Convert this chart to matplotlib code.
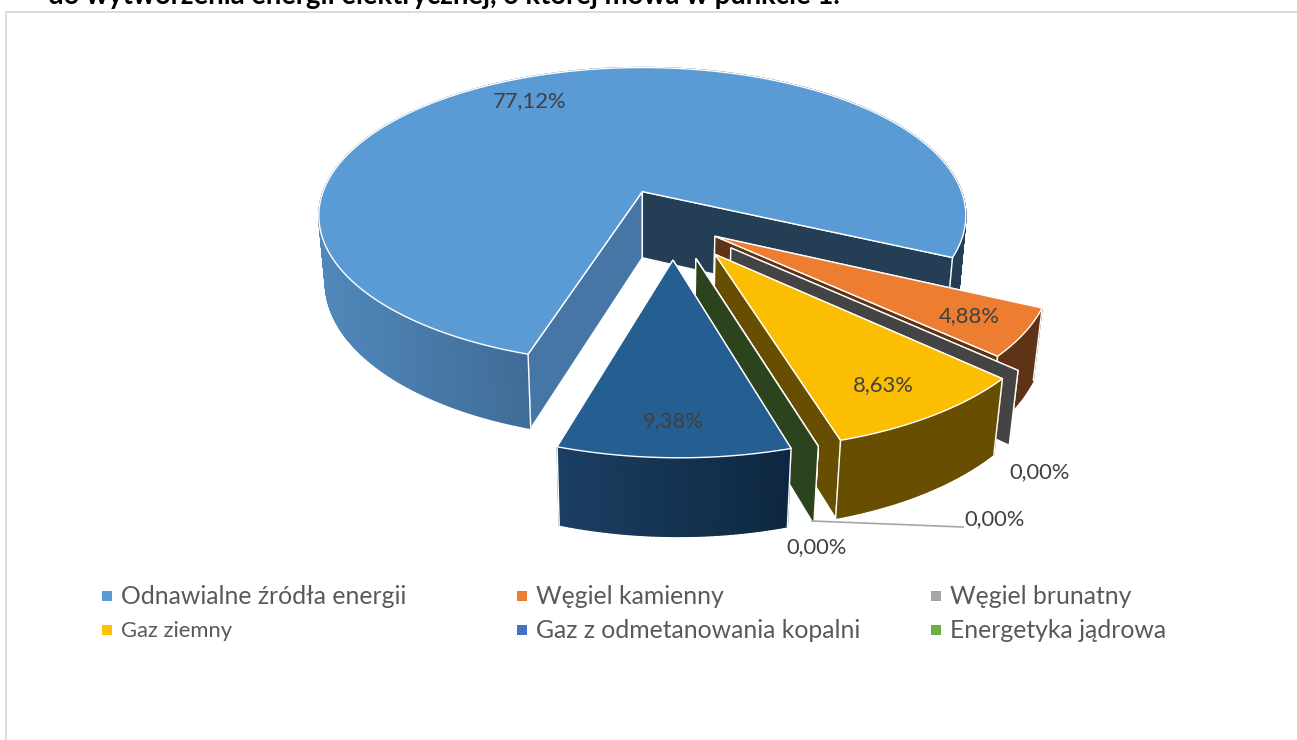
import numpy as np
import matplotlib
matplotlib.use("Agg")
import matplotlib.pyplot as plt
from matplotlib.colors import to_rgb
from matplotlib.patches import Polygon

# dane z wykresu
values = [77.12, 4.88, 0.00, 8.63, 0.00, 0.00, 9.38]
labels_txt = ["77,12%", "4,88%", "0,00%", "8,63%", "0,00%", "0,00%", "9,38%"]
legend_names = ["Odnawialne źródła energii", "Węgiel kamienny", "Węgiel brunatny",
                "Gaz ziemny", "Gaz z odmetanowania kopalni", "Energetyka jądrowa"]
legend_colors = ["#5B9BD5", "#ED7D31", "#A5A5A5", "#FFC000", "#4472C4", "#70AD47"]
heading = "do wytworzenia energii elektrycznej, o której mowa w punkcie 1."

# wyglad wycinkow
top_colors = ["#5B9BD5", "#ED7D31", "#A5A5A5", "#FBBE00", "#4472C4", "#70AD47", "#255E91"]
cut_right = ["#243E55", "#5F3315", "#444444", "#674E00", "#2A4A85", "#2C441D", "#10304F"]
cut_left = ["#4676A5", "#5F3315", "#444444", "#674E00", "#2A4A85", "#2C441D", "#10304F"]
side_ramps = [
    ([319, 530, 900, 966], ["#5088BB", "#3F6C96", "#243E55", "#243E55"]),
    ([990, 1045], ["#5F3315", "#5F3315"]),
    ([0, 1], ["#444444", "#444444"]),
    ([830, 1000], ["#674E00", "#674E00"]),
    ([0, 1], ["#2A4A85", "#2A4A85"]),
    ([0, 1], ["#2C441D", "#2C441D"]),
    ([556, 790], ["#1B3F63", "#0E2740"]),
]
explode = [0.23, 0.15, 0.23, 0.23, 0.23, 0.23, 0.23]
radius = [1.0, 0.985, 0.98, 0.98, 0.98, 0.98, 0.98]
start_angle = 197.6
center = (0.09, 0.215)

# rzut perspektywiczny plaszczyzny kola na piksele
x0, y0 = 643, 191
bx, ay, dz = 319, 144, 67.4
k, q = 0.162, 0.02


def project(u, v, z):
    w = 1 - k * v + q * z
    return x0 + bx * u / w, y0 + (ay * v + dz * z) / w


def ramp(x, stops, cols):
    rgb = np.array([to_rgb(c) for c in cols])
    return [np.interp(x, stops, rgb[:, i]) for i in range(3)]


fig = plt.figure(figsize=(12.97, 7.4), dpi=100)
ax = fig.add_axes([0, 0, 1, 1])
ax.set_xlim(0, 1297)
ax.set_ylim(740, 0)
ax.axis("off")
plt.rcParams["font.family"] = ["Lato", "DejaVu Sans"]

# ramka
ax.plot([6, 6, 1297], [740, 12, 12], color="#D9D9D9", lw=1.3)

# naglowek uciety u gory
ax.text(48, 4, heading, fontsize=19.8, fontweight="bold", color="black", va="baseline", clip_on=True)

# wycinki, kazdy kolejny nad poprzednim
angle = start_angle
total = sum(values)
zo = 3
for i, val in enumerate(values):
    span = val / total * 360
    a1, a2 = np.radians(angle), np.radians(angle + span)
    mid = (a1 + a2) / 2
    cu = center[0] + explode[i] * np.sin(mid)
    cv = center[1] - explode[i] * np.cos(mid)
    th = np.linspace(a1, a2, max(int(span * 2), 2))
    us = cu + radius[i] * np.sin(th)
    vs = cv - radius[i] * np.cos(th)

    # sciany przekroju
    for a, col in [(a1, cut_left[i]), (a2, cut_right[i])]:
        eu = cu + radius[i] * np.sin(a)
        ev = cv - radius[i] * np.cos(a)
        pts = [project(cu, cv, 0), project(eu, ev, 0), project(eu, ev, 1), project(cu, cv, 1)]
        ax.add_patch(Polygon(pts, closed=True, fc=col, ec="white", lw=1.0, zorder=zo))

    if val > 0:
        # sciana boczna, cieniowana paskami
        xt, yt = project(us, vs, 0)
        xb, yb = project(us, vs, 1)
        for j in range(len(th) - 1):
            col = ramp((xt[j] + xt[j + 1]) / 2, *side_ramps[i])
            quad = [(xt[j], yt[j]), (xt[j + 1], yt[j + 1]), (xb[j + 1], yb[j + 1]), (xb[j], yb[j])]
            ax.add_patch(Polygon(quad, closed=True, fc=col, ec=col, lw=1.0, zorder=zo))
        ax.plot([xt[0], xb[0]], [yt[0], yb[0]], color="white", lw=1.0, zorder=zo)
        ax.plot([xt[-1], xb[-1]], [yt[-1], yb[-1]], color="white", lw=1.0, zorder=zo)

        # wierzch
        apex = project(cu, cv, 0)
        top = [apex] + list(zip(xt, yt))
        ax.add_patch(Polygon(top, closed=True, fc=top_colors[i], ec="white", lw=1.0, zorder=zo))
    angle += span
    zo += 1

# etykiety danych
label_x = [530, 969, 1040, 883, 995, 817, 673]
label_y = [101, 316, 472, 385, 519, 547, 421]
for t, lx, ly in zip(labels_txt, label_x, label_y):
    ax.text(lx, ly, t, fontsize=15.8, color="#404040", ha="center", va="center", zorder=20)
ax.plot([812, 963], [521, 527], color="#A6A6A6", lw=1.2, zorder=20)

# legenda
leg_x = [107, 522, 936, 107, 522, 936]
leg_y = [596, 596, 596, 630, 630, 630]
leg_size = [17.8, 17.8, 17.8, 15.8, 17.8, 17.8]
for name, col, lx, ly, fs in zip(legend_names, legend_colors, leg_x, leg_y, leg_size):
    ax.scatter([lx], [ly], marker="s", s=42, color=col, linewidths=0)
    ax.text(lx + 14, ly + 1, name, fontsize=fs, color="#595959", va="center")

fig.savefig("out.png", dpi=100)
